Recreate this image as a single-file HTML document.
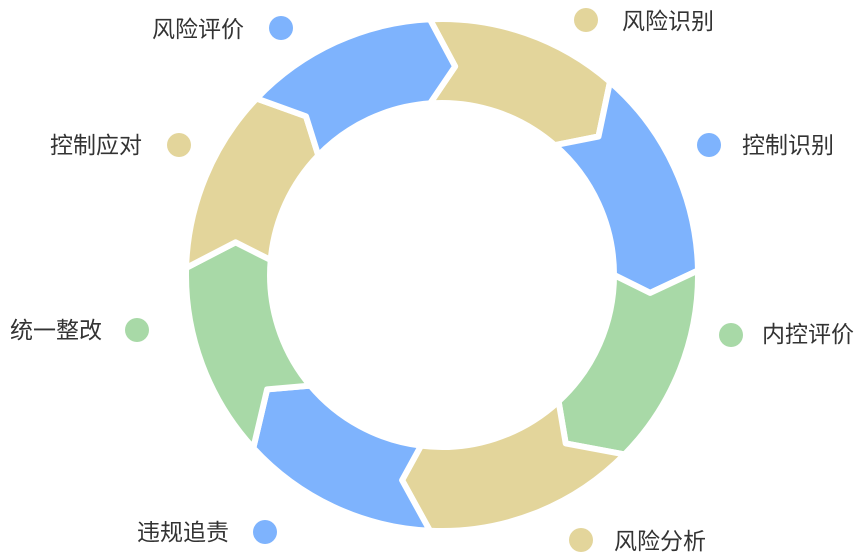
<!DOCTYPE html>
<html><head><meta charset="utf-8"><style>
body{margin:0;background:#fff;width:864px;height:560px;overflow:hidden;font-family:"Liberation Sans","Noto Sans CJK SC",sans-serif}
.t{position:absolute;font-size:23px;color:#333;line-height:26px;white-space:nowrap}
</style></head><body>
<svg id="s" width="864" height="560" style="position:absolute;left:0;top:0"></svg>
<div class="t" style="left:152px;top:16px">风险评价</div>
<div class="t" style="left:622px;top:8px">风险识别</div>
<div class="t" style="left:742px;top:132px">控制识别</div>
<div class="t" style="left:762px;top:321px">内控评价</div>
<div class="t" style="left:614px;top:528px">风险分析</div>
<div class="t" style="left:137px;top:519px">违规追责</div>
<div class="t" style="left:10px;top:317px">统一整改</div>
<div class="t" style="left:50px;top:132px">控制应对</div>
<script>
var cx=442,cy=275,R=256,r=172,m=209;
var B=[[-92.7,-94,-86.4],[-49,-49,-41.5],[-1,0,4.9],[44.5,47.3,53.7],[92.7,97,101],[137.5,140,146.8],[181.6,185,189],[223.6,224,229.4]];
var cols=["#e3d59b","#7eb3fd","#a8d9a7","#e3d59b","#7eb3fd","#a8d9a7","#e3d59b","#7eb3fd"];
function p(rad,a){a=a*Math.PI/180;return (cx+rad*Math.cos(a)).toFixed(1)+","+(cy+rad*Math.sin(a)).toFixed(1);}
var h="";
for(var i=0;i<8;i++){var b1=B[i],b2=B[(i+1)%8].slice();if(i==7){b2=[b2[0]+360,b2[1]+360,b2[2]+360];}
h+='<path d="M'+p(R,b1[0])+' A'+R+','+R+' 0 0 1 '+p(R,b2[0])+' L'+p(m,b2[2])+' L'+p(r,b2[1])+' A'+r+','+r+' 0 0 0 '+p(r,b1[1])+' L'+p(m,b1[2])+' Z" fill="'+cols[i]+'" stroke="#fff" stroke-width="6" stroke-linejoin="round"/>';}
var dots=[[281,28,"#7eb3fd"],[586,20,"#e3d59b"],[709,145,"#7eb3fd"],[731,335,"#a8d9a7"],[581,540,"#e3d59b"],[265,532,"#7eb3fd"],[137,330,"#a8d9a7"],[179,145,"#e3d59b"]];
dots.forEach(function(q){h+='<circle cx="'+q[0]+'" cy="'+q[1]+'" r="12" fill="'+q[2]+'"/>';});
document.getElementById("s").innerHTML=h;
</script>
</body></html>
